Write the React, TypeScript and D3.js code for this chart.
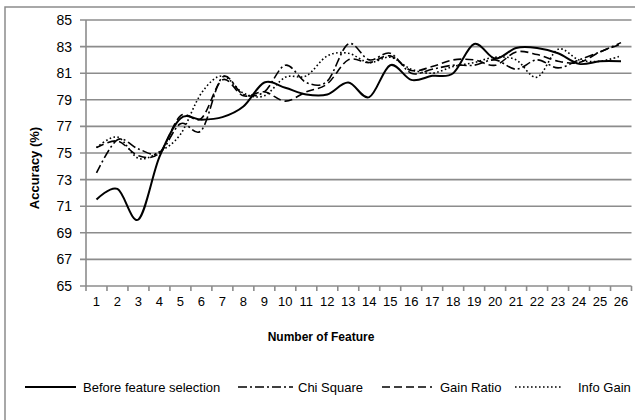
import { useEffect, useRef } from "react";
import * as d3 from "d3";

const features = d3.range(1, 27).map(String);
const yTicks = [65, 67, 69, 71, 73, 75, 77, 79, 81, 83, 85];

const beforeSelection = [71.5, 72.3, 70.0, 74.7, 77.6, 77.5, 77.7, 78.5, 80.3, 79.9, 79.4, 79.4, 80.3, 79.2, 81.6, 80.5, 80.8, 81.0, 83.2, 82.1, 82.9, 82.9, 82.5, 81.7, 81.9, 81.9];
const chiSquare = [73.5, 76.0, 75.3, 75.0, 77.2, 76.7, 80.7, 79.4, 79.6, 81.6, 80.3, 80.4, 83.2, 82.0, 82.5, 81.0, 81.3, 81.6, 81.6, 82.0, 81.3, 82.0, 81.4, 82.0, 82.6, 83.3];
const gainRatio = [75.4, 75.9, 74.8, 75.0, 77.8, 77.6, 80.5, 79.3, 79.6, 78.9, 79.6, 80.2, 82.0, 81.8, 82.3, 81.2, 81.5, 82.0, 82.0, 81.6, 82.6, 82.4, 81.9, 81.8, 82.6, 83.2];
const infoGain = [75.4, 76.2, 74.6, 75.1, 76.4, 79.5, 80.8, 79.5, 79.3, 80.7, 80.8, 82.3, 82.5, 81.8, 82.2, 81.3, 81.0, 81.5, 81.8, 82.2, 82.0, 80.7, 82.8, 82.0, 81.9, 82.3];

const seriesNames = ["Before feature selection", "Chi Square", "Gain Ratio", "Info Gain"];
const seriesValues = [beforeSelection, chiSquare, gainRatio, infoGain];

const styles = [
  { dash: "none", width: 2 },
  { dash: "9,3,2,3", width: 1.6 },
  { dash: "8,4", width: 1.6 },
  { dash: "1.6,2.4", width: 1.6 },
];

export default function App() {
  const svgRef = useRef<SVGSVGElement>(null);

  useEffect(() => {
    const svg = d3.select(svgRef.current);
    svg.selectAll("*").remove();

    const left = 86;
    const right = 631.5;
    const top = 20;
    const bottom = 286;
    const grid = "#8c8c8c";
    const font = "'Liberation Sans', Arial, sans-serif";

    const x = d3.scaleBand().domain(features).range([left, right]);
    const y = d3.scaleLinear().domain([65, 85]).range([bottom, top]);

    // outer frame (left and top edges only visible)
    svg.append("path")
      .attr("d", "M5,420 V7 H635")
      .attr("fill", "none")
      .attr("stroke", grid)
      .attr("stroke-width", 1.5);

    // gridlines
    svg.append("g")
      .selectAll("line")
      .data(yTicks)
      .join("line")
      .attr("x1", left - 6)
      .attr("x2", right)
      .attr("y1", (d) => y(d))
      .attr("y2", (d) => y(d))
      .attr("stroke", grid)
      .attr("stroke-width", 1.6);

    // y axis
    svg.append("line")
      .attr("x1", left).attr("x2", left)
      .attr("y1", top).attr("y2", bottom)
      .attr("stroke", grid).attr("stroke-width", 1.6);

    svg.append("g")
      .selectAll("text")
      .data(yTicks)
      .join("text")
      .attr("x", left - 14)
      .attr("y", (d) => y(d))
      .attr("dy", "0.35em")
      .attr("text-anchor", "end")
      .style("font-family", font)
      .style("font-size", "14px")
      .text((d) => d);

    // x axis ticks between categories
    const edges = [...features.map((f) => x(f)!), right];
    svg.append("g")
      .selectAll("line")
      .data(edges)
      .join("line")
      .attr("x1", (d) => d).attr("x2", (d) => d)
      .attr("y1", bottom).attr("y2", bottom + 5)
      .attr("stroke", grid).attr("stroke-width", 1.6);

    svg.append("g")
      .selectAll("text")
      .data(features)
      .join("text")
      .attr("x", (d) => x(d)! + x.bandwidth() / 2)
      .attr("y", 306)
      .attr("text-anchor", "middle")
      .style("font-family", font)
      .style("font-size", "13px")
      .text((d) => d);

    svg.append("text")
      .attr("x", 321)
      .attr("y", 341)
      .attr("text-anchor", "middle")
      .style("font-family", font)
      .style("font-size", "12px")
      .style("font-weight", "bold")
      .text("Number of Feature");

    svg.append("text")
      .attr("transform", `translate(39,168) rotate(-90)`)
      .attr("text-anchor", "middle")
      .style("font-family", font)
      .style("font-size", "13px")
      .style("font-weight", "bold")
      .text("Accuracy (%)");

    // series
    const line = d3
      .line<number>()
      .x((_, i) => x(features[i])! + x.bandwidth() / 2)
      .y((d) => y(d))
      .curve(d3.curveCardinal.tension(0));

    seriesValues.forEach((vals, i) => {
      svg.append("path")
        .datum(vals)
        .attr("fill", "none")
        .attr("stroke", "black")
        .attr("stroke-width", styles[i].width)
        .attr("stroke-dasharray", styles[i].dash)
        .attr("d", line);
    });

    // legend
    const legendX = [25, 238, 382, 515];
    const legendW = [51, 55, 50, 48];
    const textX = [83, 298, 440, 578];
    const legendY = 387;
    seriesNames.forEach((name, i) => {
      svg.append("line")
        .attr("x1", legendX[i]).attr("x2", legendX[i] + legendW[i])
        .attr("y1", legendY).attr("y2", legendY)
        .attr("stroke", "black")
        .attr("stroke-width", styles[i].width)
        .attr("stroke-dasharray", styles[i].dash);
      svg.append("text")
        .attr("x", textX[i])
        .attr("y", legendY)
        .attr("dy", "0.35em")
        .style("font-family", font)
        .style("font-size", "13px")
        .text(name);
    });
  }, []);

  return (
    <svg
      ref={svgRef}
      width={635}
      height={420}
      style={{ position: "absolute", left: 0, top: 0, background: "white" }}
    />
  );
}
